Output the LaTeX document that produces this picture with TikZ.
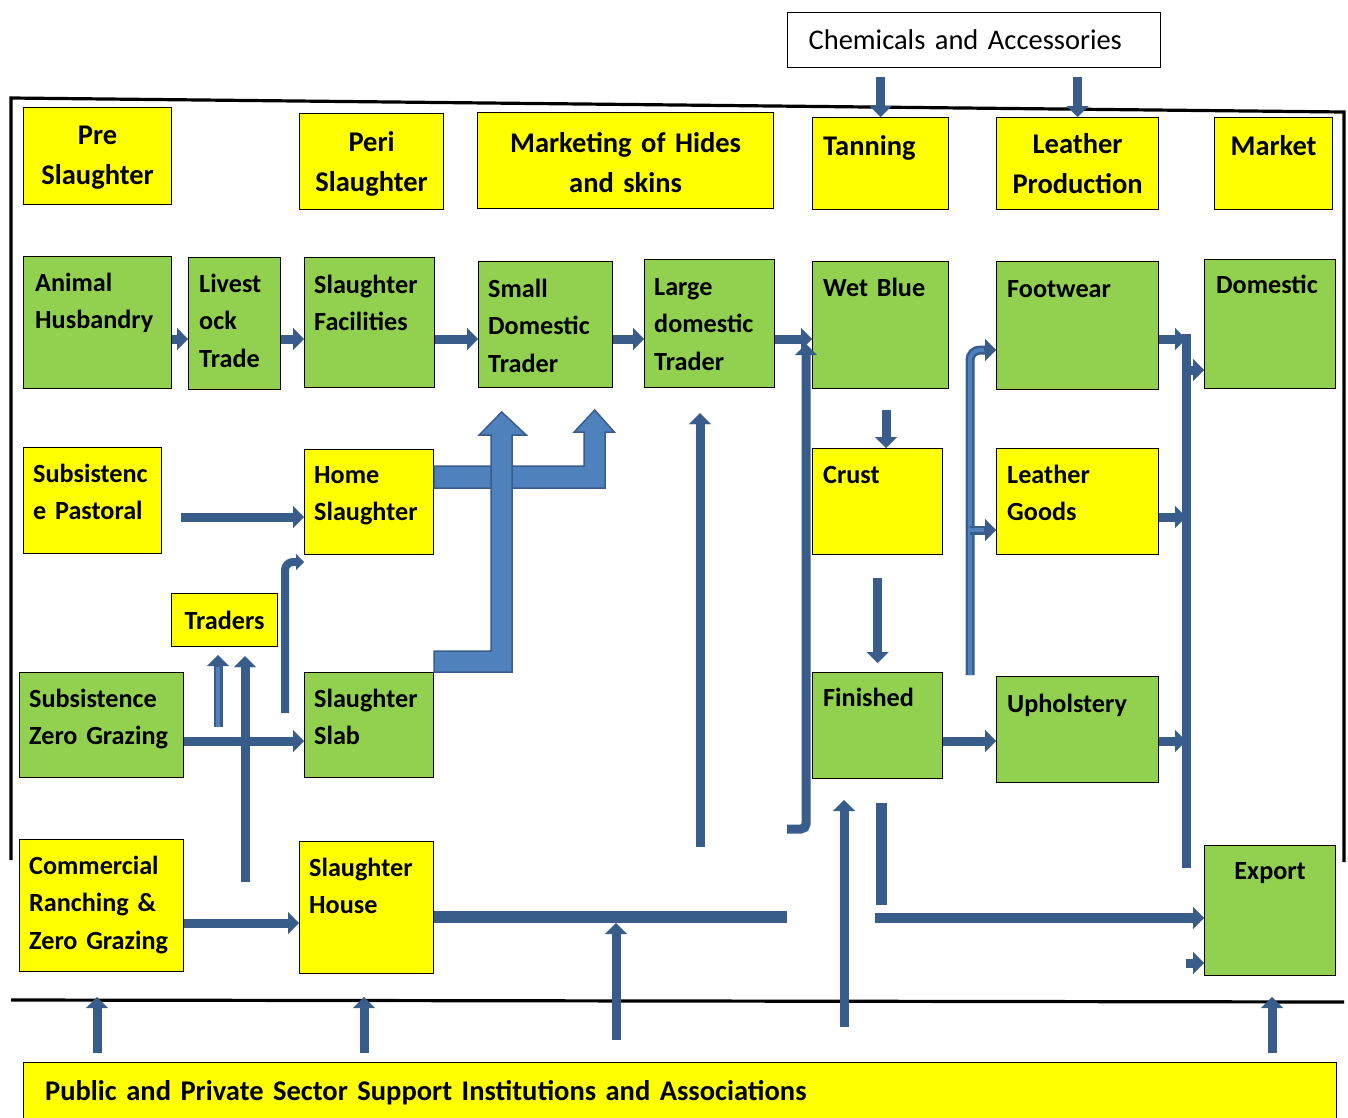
\documentclass[tikz,border=0pt]{standalone}
\usepackage{fontspec}
\setmainfont{Carlito}
\usetikzlibrary{arrows.meta}
\definecolor{sun}{RGB}{255,255,0}
\definecolor{leaf}{RGB}{146,208,80}
\definecolor{flowblue}{RGB}{56,93,138}
\definecolor{fatblue}{RGB}{79,129,189}

\tikzset{
  stage/.style={draw=black, line width=1.2pt, anchor=north west, inner sep=0pt},
  caption/.style={anchor=base west, inner sep=0pt, align=left, text width=170pt,
    font=\fontsize{26.2pt}{37.5pt}\selectfont\bfseries},
  heading/.style={anchor=base, inner sep=0pt, align=center, text width=300pt,
    font=\fontsize{28.5pt}{40pt}\selectfont\bfseries},
  flow/.style={draw=flowblue, line width=9pt, -{Triangle[width=22pt,length=11pt,line width=0.1pt]}},
  bar/.style={draw=flowblue, line width=9pt},
  hollow/.style={flow, postaction={draw=fatblue, line width=4pt, arrows=-, shorten >=12pt}},
  fat/.style={fill=fatblue, draw=flowblue, line width=1.5pt, line join=miter},
  frame/.style={draw=black, line width=3.2pt, line join=miter}
}

\begin{document}
\begin{tikzpicture}[x=1pt, y=-1pt]
\useasboundingbox (0,0) rectangle (1348,1117);

% frame round the chain
\draw[frame] (11,860) -- (11,98) -- (1344,112) -- (1344,862);
\draw[frame] (11,1000) -- (1344,1002);

% stages
\node[stage, fill=white, minimum width=373pt, minimum height=55pt, text width=331pt,
  inner xsep=21pt, align=left, font=\fontsize{28.5pt}{32pt}\selectfont] (chemicals) at (787,12) {Chemicals and Accessories};
\node[stage, fill=sun, minimum width=148pt, minimum height=97pt] (pre) at (23,107) {};
\node[stage, fill=sun, minimum width=144pt, minimum height=96pt] (peri) at (299,113) {};
\node[stage, fill=sun, minimum width=296pt, minimum height=96pt] (marketing) at (477,112) {};
\node[stage, fill=sun, minimum width=136pt, minimum height=92pt] (tanning) at (812,117) {};
\node[stage, fill=sun, minimum width=162pt, minimum height=92pt] (leatherprod) at (996,117) {};
\node[stage, fill=sun, minimum width=118pt, minimum height=92pt] (market) at (1214,117) {};
\node[heading] (pre-text) at ([shift={(0,37)}]pre.north) {Pre\\Slaughter};
\node[heading] (peri-text) at ([shift={(0,38)}]peri.north) {Peri\\Slaughter};
\node[heading] (marketing-text) at ([shift={(0,40)}]marketing.north) {Marketing of Hides\\and skins};
\node[heading, anchor=base west, align=left, text width=130pt] (tanning-text) at ([shift={(11,38)}]tanning.north west) {Tanning};
\node[heading] (leatherprod-text) at ([shift={(0,36)}]leatherprod.north) {Leather\\Production};
\node[heading] (market-text) at ([shift={(0,38)}]market.north) {Market};

% actors
\node[stage, fill=leaf, minimum width=148pt, minimum height=132pt] (husbandry) at (23,256) {};
\node[stage, fill=leaf, minimum width=92pt, minimum height=132pt] (livestock) at (188,257) {};
\node[stage, fill=leaf, minimum width=130pt, minimum height=130pt] (facilities) at (304,257) {};
\node[stage, fill=leaf, minimum width=134pt, minimum height=126pt] (smalltrader) at (478,261) {};
\node[stage, fill=leaf, minimum width=130pt, minimum height=128pt] (largetrader) at (644,259) {};
\node[stage, fill=leaf, minimum width=136pt, minimum height=127pt] (wetblue) at (812,261) {};
\node[stage, fill=leaf, minimum width=162pt, minimum height=128pt] (footwear) at (996,261) {};
\node[stage, fill=leaf, minimum width=131pt, minimum height=129pt] (domestic) at (1204,259) {};
\node[stage, fill=sun, minimum width=138pt, minimum height=106pt] (pastoral) at (23,447) {};
\node[stage, fill=sun, minimum width=129pt, minimum height=105pt] (homeslaughter) at (304,449) {};
\node[stage, fill=sun, minimum width=130pt, minimum height=106pt] (crust) at (812,448) {};
\node[stage, fill=sun, minimum width=162pt, minimum height=106pt] (leathergoods) at (996,448) {};
\node[stage, fill=sun, minimum width=106pt, minimum height=53pt,
  font=\fontsize{26.2pt}{37.5pt}\selectfont\bfseries] (traders) at (171,593) {Traders};
\node[stage, fill=leaf, minimum width=164pt, minimum height=105pt] (zerograzing) at (19,672) {};
\node[stage, fill=leaf, minimum width=129pt, minimum height=105pt] (slab) at (304,672) {};
\node[stage, fill=leaf, minimum width=130pt, minimum height=106pt] (finished) at (812,672) {};
\node[stage, fill=leaf, minimum width=162pt, minimum height=106pt] (upholstery) at (996,676) {};
\node[stage, fill=sun, minimum width=164pt, minimum height=132pt] (ranching) at (19,839) {};
\node[stage, fill=sun, minimum width=134pt, minimum height=132pt] (slaughterhouse) at (299,841) {};
\node[stage, fill=leaf, minimum width=131pt, minimum height=130pt] (export) at (1204,845) {};
\node[stage, fill=sun, minimum width=1313pt, minimum height=70pt] (support) at (23,1062) {};

\node[caption] (husbandry-text) at ([shift={(12,35)}]husbandry.north west) {Animal\\Husbandry};
\node[caption] (livestock-text) at ([shift={(11,35)}]livestock.north west) {Livest\\ock\\Trade};
\node[caption] (facilities-text) at ([shift={(10,36)}]facilities.north west) {Slaughter\\Facilities};
\node[caption] (smalltrader-text) at ([shift={(10,36)}]smalltrader.north west) {Small\\Domestic\\Trader};
\node[caption] (largetrader-text) at ([shift={(10,36)}]largetrader.north west) {Large\\domestic\\Trader};
\node[caption] (wetblue-text) at ([shift={(11,35)}]wetblue.north west) {Wet Blue};
\node[caption] (footwear-text) at ([shift={(11,36)}]footwear.north west) {Footwear};
\node[caption] (domestic-text) at ([shift={(12,34)}]domestic.north west) {Domestic};
\node[caption] (pastoral-text) at ([shift={(10,35)}]pastoral.north west) {Subsistenc\\e Pastoral};
\node[caption] (homeslaughter-text) at ([shift={(10,34)}]homeslaughter.north west) {Home\\Slaughter};
\node[caption] (crust-text) at ([shift={(11,35)}]crust.north west) {Crust};
\node[caption] (leathergoods-text) at ([shift={(11,35)}]leathergoods.north west) {Leather\\Goods};
\node[caption] (zerograzing-text) at ([shift={(10,35)}]zerograzing.north west) {Subsistence\\Zero Grazing};
\node[caption] (slab-text) at ([shift={(10,35)}]slab.north west) {Slaughter\\Slab};
\node[caption] (finished-text) at ([shift={(11,34)}]finished.north west) {Finished};
\node[caption] (upholstery-text) at ([shift={(11,36)}]upholstery.north west) {Upholstery};
\node[caption] (ranching-text) at ([shift={(10,35)}]ranching.north west) {Commercial\\Ranching \&\\Zero Grazing};
\node[caption] (slaughterhouse-text) at ([shift={(10,35)}]slaughterhouse.north west) {Slaughter\\House};
\node[caption, anchor=base, align=center, text width=130pt] (export-text) at ([shift={(0,34)}]export.north) {Export};
\node[caption, text width=1000pt, font=\fontsize{28.5pt}{32pt}\selectfont\bfseries] (support-text)
  at ([shift={(22,38)}]support.north west) {Public and Private Sector Support Institutions and Associations};

% rows and loose ends
\coordinate (row1) at (0,339);
\coordinate (row2) at (0,370);
\coordinate (row3) at (0,517);
\coordinate (row3b) at (0,530);
\coordinate (row4) at (0,741);
\coordinate (row5) at (0,923);
\coordinate (row6) at (0,917);
\coordinate (row7) at (0,963);
\coordinate (row8) at (0,350);
\coordinate (row9) at (0,562);
\coordinate (pastoral-out) at (181,517);
\coordinate (bus-top) at (1186,334);
\coordinate (bus-end) at (1186,868);
\coordinate (trade-in) at (245,882);
\coordinate (broker-in) at (218,727);
\coordinate (broker-tip) at (218,655);
\coordinate (slab-up) at (285,713);
\coordinate (large-in) at (700,847);
\coordinate (hook) at (787,829);
\coordinate (hook-top) at (806,344);
\coordinate (blue-drop) at (886,410);
\coordinate (goods-foot) at (970,675);
\coordinate (house-end) at (787,917);
\coordinate (house-up) at (616,1040);
\coordinate (finish-drop) at (881,803);
\coordinate (finish-drop-end) at (881,905);
\coordinate (finish-out) at (875,918);
\coordinate (support-up) at (844,1027);
\coordinate (support-tip) at (844,800);

% fat arrows to the traders
\draw[fat] ([shift={(0,17)}]homeslaughter.north east) -- ++(150,0) -- ++(0,-34) -- ++(-10,0)
  -- ++(20.5,-22) -- ++(19.5,22) -- ++(-9,0) -- ++(0,56) -- ++(-171,0) -- cycle;
\draw[fat] (slab.north east) -- ++(78,0) -- ++(0,-237) -- ++(14,0) -- ++(-24.5,-23)
  -- ++(-22.5,23) -- ++(12,0) -- ++(0,216) -- ++(-57,0) -- cycle;

% main chain
\draw[flow] (husbandry.east |- row1) -- (livestock.west |- row1);
\draw[flow] (livestock.east |- row1) -- (facilities.west |- row1);
\draw[flow] (facilities.east |- row1) -- (smalltrader.west |- row1);
\draw[flow] (smalltrader.east |- row1) -- (largetrader.west |- row1);
\draw[flow] (largetrader.east |- row1) -- (wetblue.west |- row1);
\draw[flow] (pastoral-out) -- (homeslaughter.west |- row3);
\draw[flow] (zerograzing.east |- row4) -- (slab.west |- row4);
\draw[flow] (ranching.east |- row5) -- (slaughterhouse.west |- row5);
\draw[flow] (trade-in) -- (trade-in |- traders.south) [shorten >=9pt];
\draw[hollow] (broker-in) -- (broker-tip);
\draw[flow, line width=8pt, rounded corners=8pt, -{Triangle[width=16pt,length=8pt,line width=0.1pt]}]
  (slab-up) |- (homeslaughter.west |- row9);
\draw[flow, shorten >=25pt] (large-in) -- (large-in |- largetrader.south);
\draw[flow, rounded corners=5pt] (hook) -| (hook-top);

% tannery
\draw[flow, shorten <=9pt] (chemicals.south -| tanning.north) -- (tanning.north);
\draw[flow, shorten <=9pt] (chemicals.south -| leatherprod.north) -- (leatherprod.north);
\draw[flow] (blue-drop) -- (blue-drop |- crust.north);
\draw[flow, shorten <=23pt, shorten >=9pt] (crust.south) -- (finished.north);
\draw[flow] (finished.east |- row4) -- (upholstery.west |- row4);
\draw[hollow, rounded corners=10pt] (goods-foot) |- (footwear.west |- row8);
\draw[hollow] (goods-foot |- row3b) -- (leathergoods.west |- row3b);

% markets
\draw[bar] (bus-top) -- (bus-end);
\draw[flow] (footwear.east |- row1) -- (bus-top |- row1);
\draw[flow] (bus-top |- row2) -- (domestic.west |- row2);
\draw[flow] (leathergoods.east |- row3) -- (bus-top |- row3);
\draw[flow] (upholstery.east |- row4) -- (bus-top |- row4);
\draw[flow] (bus-top |- row7) -- (export.west |- row7);
\draw[bar, line width=11pt] (finish-drop) -- (finish-drop-end);
\draw[flow, line width=10pt] (finish-out) -- (export.west |- finish-out);
\draw[bar, line width=12pt] (slaughterhouse.east |- row6) -- (house-end);
\draw[flow] (house-up) -- (house-up |- row5);
\draw[flow] (support-up) -- (support-tip);

% support
\foreach \x in {97,364,1272}
  \draw[flow, shorten <=9pt] (support.north -| \x,0) -- ++(0,-65);
\end{tikzpicture}
\end{document}
